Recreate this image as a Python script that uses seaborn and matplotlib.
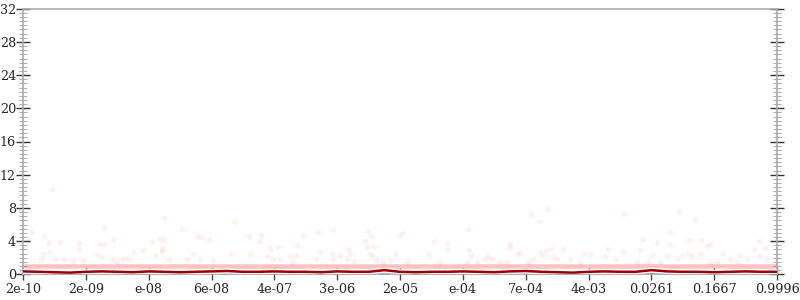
import numpy as np
import pandas as pd
import matplotlib
matplotlib.use("Agg")
import matplotlib.pyplot as plt
import matplotlib.patheffects as pe
from matplotlib.ticker import MultipleLocator
import seaborn as sns

# ---------------- data ----------------
tick_labels = ['2e-10', '2e-09', 'e-08', '6e-08', '4e-07', '3e-06', '2e-05',
               'e-04', '7e-04', '4e-03', '0.0261', '0.1667', '0.9996']
n_positions = 601
band_levels = [0, 1]

outlier_x = [23.3, 6.9, 5.0, 17, 21, 29.4, 44.6, 44.6, 16.2, 21.5, 14, 25.5, 32.4, 40, 48,
             64.2, 60.5, 64.5, 71.6, 59.1, 62.6, 70.6, 74.6, 87.8, 95.3, 79.8, 83.8, 102.4,
             109, 112.4, 112, 110.4, 110.4, 104.8, 116.2, 126.5, 138.2, 141.4, 148.3, 135.5,
             130.3, 140.9, 151.4,
             168.2, 180.1, 189.2, 188.6, 196.6, 203.2, 165.5, 180.6, 193.9, 199.2, 204.5,
             212.5, 217.3, 213.8, 222.6, 217.8, 234.5, 246.5, 236.4, 233.2, 245.7, 247.7,
             252.3, 258.9, 260.2, 257.6, 263.4, 274.8, 276.9, 272.2, 273.5, 279.3, 276.1,
             278.8, 281.5, 299.5, 301.4, 296, 292.1, 286.7,
             327.3, 338.5, 337.2, 323.3, 331.9, 354.1, 354.7, 356.8, 353.1, 370.3, 373,
             367.7, 404.3, 418, 410.6, 387.5, 387.5, 392.9, 395.5, 411.4, 416, 420, 430,
             414, 422, 424.7, 435.3, 406.1, 402.1, 445.9, 451.2, 443.3, 379.6, 384.9, 361,
             305.4,
             478.5, 522.3, 534.8, 514.9, 493.2, 504.3, 514.9, 530, 539.3, 544.6, 546.7,
             585.7, 590.5, 581.7, 465.8, 477.7, 491, 463.2, 471.1, 500.3, 512.7, 520.2,
             524.2, 529.4, 532.2, 538.8, 557.3, 562.6, 570.6, 575.9, 586.5, 591.8, 488.4,
             497.6, 506.9, 546.7, 552, 568]
outlier_y = [10.3, 5.05, 4.0, 4.57, 3.77, 3.9, 3.77, 3.05, 2.5, 2.7, 1.85, 1.85, 1.8, 1.75, 1.7,
             5.6, 3.7, 3.7, 4.1, 2.4, 2.1, 1.8, 1.5, 2.7, 2.9, 1.8, 1.85, 3.9,
             4.25, 4.1, 6.8, 3.2, 2.8, 2.2, 1.8, 5.45, 4.6, 4.5, 4.3, 2.4,
             1.85, 1.8, 1.7,
             6.3, 4.57, 4.7, 3.97, 3.05, 3.3, 2.4, 2.4, 2.17, 1.85, 1.85,
             2.17, 2.17, 1.5, 4.73, 3.57, 5.13, 5.3, 2.65, 1.85, 2.4, 1.85,
             2.17, 3.0, 2.4, 1.85, 1.6, 5.17, 4.57, 3.97, 3.3, 3.3, 2.4,
             2.17, 1.68, 4.57, 4.97, 2.4, 1.68, 1.5,
             4.05, 3.8, 3.05, 2.4, 1.5, 5.5, 2.9, 2.17, 1.5, 2.17, 1.85,
             1.85, 7.3, 7.9, 6.38, 3.7, 3.17, 2.4, 2.7, 2.7, 2.8, 3.0, 3.0,
             2.17, 2.17, 1.85, 1.85, 1.85, 1.5, 2.4, 2.4, 1.5, 1.5, 1.5, 1.5,
             1.5,
             7.26, 7.5, 6.6, 5.05, 4.3, 3.77, 3.57, 4.17, 4.1, 3.4, 3.6,
             3.97, 3.17, 3.0, 3.0, 2.65, 2.9, 2.17, 1.85, 2.17, 2.17, 1.85,
             2.17, 2.5, 2.17, 2.5, 2.56, 1.85, 2.17, 1.85, 2.17, 1.85, 1.5,
             1.5, 1.5, 1.5, 1.5, 1.5]

mean_values = [0.35, 0.3, 0.25, 0.2, 0.3, 0.35, 0.3, 0.25, 0.35, 0.3, 0.25, 0.3, 0.35,
               0.4, 0.3, 0.3, 0.35, 0.3, 0.3, 0.25, 0.35, 0.3, 0.3, 0.5, 0.3, 0.25, 0.3,
               0.3, 0.35, 0.3, 0.25, 0.35, 0.4, 0.3, 0.25, 0.2, 0.3, 0.35, 0.3, 0.3, 0.5,
               0.35, 0.3, 0.3, 0.25, 0.3, 0.35, 0.3, 0.3]

# ---------------- figure ----------------
sns.set_style("ticks")
plt.rcParams['font.family'] = ['DejaVu Serif']

fig = plt.figure(figsize=(8, 3), dpi=100)
ax = fig.add_axes([23 / 800, 25.7 / 300, 754 / 800, 265.6 / 300])

positions = np.arange(n_positions)
band_df = pd.DataFrame({
    'x': np.concatenate([positions for _ in band_levels]),
    'y': np.concatenate([np.full(n_positions, lvl, dtype=float) for lvl in band_levels]),
})
out_df = pd.DataFrame({'x': outlier_x, 'y': outlier_y})
pts = pd.concat([band_df, out_df], ignore_index=True)

sns.scatterplot(data=pts, x='x', y='y', ax=ax, color='#ff2020', alpha=0.07,
                s=16, linewidth=0, zorder=2)

mean_x = np.linspace(0, n_positions - 1, len(mean_values))
line_df = pd.DataFrame({'x': mean_x, 'y': mean_values})
sns.lineplot(data=line_df, x='x', y='y', ax=ax, color='#9a0000', linewidth=1.8,
             zorder=4, path_effects=[pe.Stroke(linewidth=3.6, foreground='white'),
                                     pe.Normal()])

ax.set_xlim(0, n_positions - 1)
ax.set_ylim(0, 32)
step = (n_positions - 1) / (len(tick_labels) - 1)
ax.set_xticks([i * step for i in range(len(tick_labels))])
ax.set_xticklabels(tick_labels)
ax.yaxis.set_major_locator(MultipleLocator(4))
ax.yaxis.set_minor_locator(MultipleLocator(0.5))
ax.set_xlabel('')
ax.set_ylabel('')

ax.tick_params(axis='y', which='major', direction='inout', length=10, width=1,
               color='#333333', left=True, right=True, labelsize=9.2, pad=0)
ax.tick_params(axis='y', which='minor', direction='inout', length=6, width=0.8,
               color='#b0b0b0', left=True, right=True)
ax.tick_params(axis='x', which='major', direction='inout', length=9, width=1,
               color='#444444', labelsize=9.2, pad=2, top=False)

for side in ['top', 'left', 'right', 'bottom']:
    ax.spines[side].set_visible(True)
    ax.spines[side].set_color('#aaaaaa')
    ax.spines[side].set_linewidth(1.2)

fig.savefig('out.png', dpi=100)
